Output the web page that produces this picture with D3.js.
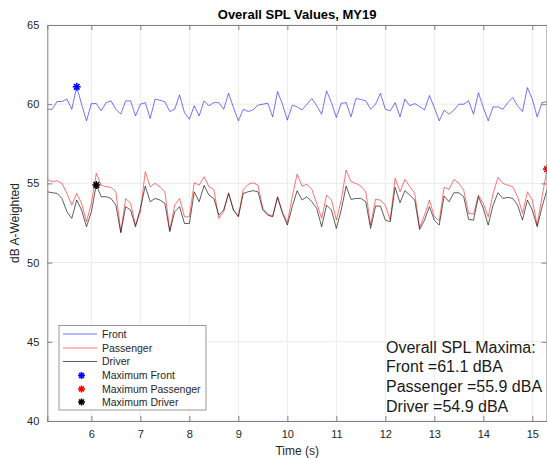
<!DOCTYPE html>
<html><head><meta charset="utf-8">
<script src="https://cdn.jsdelivr.net/npm/d3@7"></script>
<style>body{margin:0;background:#fff}svg{display:block;font-family:"Liberation Sans",Arial,Helvetica,sans-serif}</style>
</head><body><svg id="c" width="547" height="458"></svg>
<script>
const front=[59.68,59.68,60.17,60.17,60.32,59.68,61.10,60.00,58.95,60.04,60.04,59.58,60.10,60.21,59.68,59.37,60.21,60.21,59.26,60.00,
60.10,59.10,60.32,60.25,60.15,59.54,59.68,60.59,59.47,59.05,59.90,59.26,60.21,59.90,60.10,60.10,59.68,60.69,59.79,58.95,
59.68,59.54,59.64,59.94,60.00,60.06,59.20,60.80,60.00,58.99,59.94,59.83,59.64,60.00,60.36,59.90,59.37,60.84,60.10,59.16,
60.06,60.10,59.20,60.36,60.30,60.21,59.68,60.00,60.69,59.68,59.58,60.10,59.20,60.32,59.90,60.04,59.85,59.64,60.55,59.79,
58.95,59.62,59.37,59.62,60.00,60.00,60.21,59.37,60.72,59.79,58.95,59.83,59.83,59.68,60.10,60.42,59.90,59.54,61.05,60.32,
59.20,60.10,60.17];
const passenger=[55.25,55.11,55.17,55.00,54.37,53.63,54.37,53.74,52.58,53.74,55.63,54.89,54.79,54.75,54.47,51.95,54.05,53.74,52.37,53.21,
55.74,54.79,55.00,54.79,54.47,52.05,53.63,54.05,52.89,52.89,55.04,54.89,55.42,54.79,54.62,52.79,53.21,54.41,53.32,52.94,
54.62,54.94,55.04,54.89,53.42,53.06,52.94,54.16,53.21,52.52,54.16,55.59,54.83,54.94,54.62,53.74,52.79,54.26,53.95,52.68,
53.95,55.84,55.11,55.00,54.83,54.47,52.37,53.99,53.95,53.63,52.68,55.32,54.47,55.25,54.79,54.37,52.22,53.00,53.95,52.89,
52.64,54.75,54.62,55.25,55.00,54.58,53.11,53.06,54.26,53.74,52.89,54.37,55.38,55.00,54.89,54.79,54.16,53.11,54.47,53.95,
52.37,54.16,55.90];
const driver=[54.47,54.41,54.37,54.05,53.21,52.79,53.95,53.32,52.26,53.21,54.90,54.16,54.16,54.05,53.63,51.88,53.53,53.32,52.26,53.42,
54.83,53.84,54.05,53.95,53.74,51.95,53.21,53.53,52.47,52.47,54.47,53.84,54.87,54.26,54.05,53.00,53.32,54.37,53.32,52.89,
54.37,54.47,54.54,54.47,53.32,53.00,52.89,54.12,53.11,52.37,53.53,54.54,53.95,54.16,53.84,53.42,52.26,53.63,53.32,52.16,
53.32,54.83,53.99,54.05,54.05,53.84,52.16,53.57,53.57,52.68,52.58,54.75,53.78,54.54,54.26,53.95,52.09,52.68,53.53,52.68,
52.37,54.20,53.84,54.41,54.41,54.16,52.73,52.68,54.16,53.42,52.37,53.63,54.41,54.05,54.12,54.05,53.63,52.68,53.95,53.32,
52.26,53.53,54.60];
const tStart=5.1, tStep=0.1;
const xTicks=[6,7,8,9,10,11,12,13,14,15];
const yTicks=[40,45,50,55,60,65];
const seriesNames=["Front","Passenger","Driver"];
const maxNames=["Maximum Front","Maximum Passenger","Maximum Driver"];
const seriesColors=["#0000ff","#ff0000","#000000"];

const svg=d3.select("#c");
const L=47.3,R=547,T=25,B=421;
const times=front.map((_,i)=>+(tStart+i*tStep).toFixed(2));
const x=d3.scaleLinear().domain([5.1,15.3]).range([L,R]);
const y=d3.scaleLinear().domain([40,65]).range([B,T]);

// grid
const g=svg.append("g");
g.selectAll("line.gx").data(xTicks).join("line").attr("x1",d=>x(d)).attr("x2",d=>x(d)).attr("y1",T).attr("y2",B).attr("stroke","#ebebeb").attr("stroke-width",1);
g.selectAll("line.gy").data(yTicks).join("line").attr("x1",L).attr("x2",R).attr("y1",d=>y(d)).attr("y2",d=>y(d)).attr("stroke","#ebebeb").attr("stroke-width",1);

// series
const series=[front,passenger,driver];
const line=d3.line().x((d,i)=>x(times[i])).y(d=>y(d));
const lineOp=[0.55,0.55,0.7];
const lineW=[1.0,1.0,0.9];
series.forEach((s,k)=>{
  svg.append("path").datum(s).attr("d",line).attr("fill","none").attr("stroke",seriesColors[k]).attr("stroke-opacity",lineOp[k]).attr("stroke-width",lineW[k]).attr("stroke-linejoin","round");
});

function star(r){const a=r*0.7071;return `M${-r},0L${r},0M0,${-r}L0,${r}M${-a},${-a}L${a},${a}M${-a},${a}L${a},${-a}`;}
series.forEach((s,k)=>{
  const i=d3.maxIndex(s);
  svg.append("path").attr("d",star(4)).attr("transform",`translate(${x(times[i])},${y(s[i])})`).attr("stroke",seriesColors[k]).attr("stroke-width",1.6).attr("fill","none");
});

// axes
const axCol="#808080", txtCol="#262626";
const xb=svg.append("g").attr("transform",`translate(0,${B})`).call(d3.axisBottom(x).tickValues(xTicks).tickSize(-5).tickPadding(9).tickFormat(d3.format("d")));
const xt=svg.append("g").attr("transform",`translate(0,${T})`).call(d3.axisTop(x).tickValues(xTicks).tickSize(-5).tickFormat(""));
const yl=svg.append("g").attr("transform",`translate(${L},0)`).call(d3.axisLeft(y).tickValues(yTicks).tickSize(-5).tickPadding(8).tickFormat(d3.format("d")));
const yr=svg.append("g").attr("transform",`translate(${R-0.5},0)`).call(d3.axisRight(y).tickValues(yTicks).tickSize(-5).tickFormat(""));
[xb,xt,yl,yr].forEach(a=>{a.select(".domain").attr("stroke",axCol);a.selectAll(".tick line").attr("stroke",axCol);a.selectAll("text").attr("fill",txtCol).attr("font-size",11).attr("font-family","Liberation Sans, Arial, sans-serif");});

// title and labels
svg.append("text").attr("x",(L+R)/2).attr("y",19).attr("text-anchor","middle").attr("font-weight","bold").attr("font-size",13).attr("fill","#000").text("Overall SPL Values, MY19");
svg.append("text").attr("x",(L+R)/2).attr("y",455).attr("text-anchor","middle").attr("font-size",12).attr("fill",txtCol).text("Time (s)");
svg.append("text").attr("transform",`translate(19,${(T+B)/2}) rotate(-90)`).attr("text-anchor","middle").attr("font-size",12).attr("fill",txtCol).text("dB A-Weighted");

// legend
const lg=svg.append("g");
lg.append("rect").attr("x",59).attr("y",325.5).attr("width",147).attr("height",84.5).attr("fill","#fff").attr("stroke","#999").attr("stroke-width",1);
const rowY=[334,348,361.5,375.5,389,402];
seriesNames.forEach((n,k)=>{
  lg.append("line").attr("x1",63).attr("x2",97).attr("y1",rowY[k]).attr("y2",rowY[k]).attr("stroke",seriesColors[k]).attr("stroke-opacity",lineOp[k]).attr("stroke-width",lineW[k]);
  lg.append("text").attr("x",102).attr("y",rowY[k]+3.7).attr("font-size",10.5).attr("fill",txtCol).text(n);
});
maxNames.forEach((n,k)=>{
  lg.append("path").attr("d",star(3.5)).attr("transform",`translate(81.5,${rowY[k+3]})`).attr("stroke",seriesColors[k]).attr("stroke-width",1.6).attr("fill","none");
  lg.append("text").attr("x",102).attr("y",rowY[k+3]+3.7).attr("font-size",10.5).attr("fill",txtCol).text(n);
});

// annotation
const ann=["Overall SPL Maxima:",
  `Front =${d3.max(front).toFixed(1)} dBA`,
  `Passenger =${d3.max(passenger).toFixed(1)} dBA`,
  `Driver =${d3.max(driver).toFixed(1)} dBA`];
svg.append("g").selectAll("text").data(ann).join("text").attr("x",386).attr("y",(d,i)=>352.5+i*19.7).attr("font-size",16).attr("fill","#1a1a1a").text(d=>d);
</script></body></html>
